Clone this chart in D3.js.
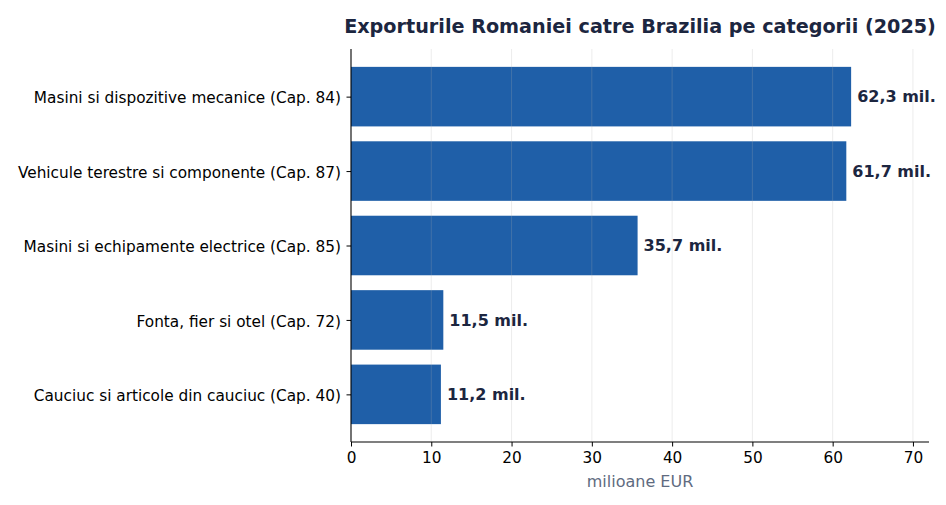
<!DOCTYPE html>
<html><head><meta charset="utf-8">
<script src="https://cdn.jsdelivr.net/npm/d3@7"></script>
<style>body{margin:0;background:#fff}svg{display:block}</style>
</head><body>
<script>
const categories = [
  "Masini si dispozitive mecanice (Cap. 84)",
  "Vehicule terestre si componente (Cap. 87)",
  "Masini si echipamente electrice (Cap. 85)",
  "Fonta, fier si otel (Cap. 72)",
  "Cauciuc si articole din cauciuc (Cap. 40)"
];
const values = [62.3, 61.7, 35.7, 11.5, 11.2];
const valueLabels = ["62,3 mil.", "61,7 mil.", "35,7 mil.", "11,5 mil.", "11,2 mil."];
const xTicks = [0, 10, 20, 30, 40, 50, 60, 70];
const title = "Exporturile Romaniei catre Brazilia pe categorii (2025)";
const xLabel = "milioane EUR";

const W = 946, H = 505;
const m = {left: 351, right: 929, top: 49, bottom: 442};
const font = "DejaVu Sans, sans-serif";

const svg = d3.select("body").append("svg").attr("width", W).attr("height", H);

const x = d3.scaleLinear().domain([0, 72]).range([m.left, m.right]);
const y = d3.scaleLinear().domain([-0.64, categories.length - 1 + 0.64]).range([m.top, m.bottom]);
const bh = y(0.4) - y(-0.4);

svg.append("g").selectAll("rect").data(values).join("rect")
  .attr("x", x(0)).attr("y", (d, i) => y(i) - bh / 2)
  .attr("width", d => x(d) - x(0)).attr("height", bh)
  .attr("fill", "#1f5fa8");

// grid
svg.append("g").selectAll("line").data(xTicks.slice(1)).join("line")
  .attr("x1", d => x(d)).attr("x2", d => x(d))
  .attr("y1", m.top).attr("y2", m.bottom)
  .attr("stroke", "#b0b0b0").attr("stroke-opacity", 0.3).attr("stroke-width", 0.8);

// value labels
svg.append("g").selectAll("text").data(values).join("text")
  .attr("x", d => x(d) + 6).attr("y", (d, i) => y(i))
  .attr("dy", "0.36em")
  .attr("font-family", font).attr("font-size", "16px").attr("font-weight", "bold")
  .attr("fill", "#1c2640")
  .text((d, i) => valueLabels[i]);

// x axis
const xAxis = svg.append("g").attr("transform", `translate(0,${m.bottom})`)
  .call(d3.axisBottom(x).tickValues(xTicks).tickSize(4.5).tickPadding(6).tickFormat(d3.format("d")));
xAxis.select(".domain").attr("stroke", "#000").attr("stroke-width", 1.1).attr("d", `M${m.left},0H${m.right}`);
xAxis.selectAll(".tick line").attr("stroke", "#000").attr("stroke-width", 1);
xAxis.selectAll("text").attr("font-family", font).attr("font-size", "15.3px").attr("fill", "#000");

// y axis
const yAxis = svg.append("g").attr("transform", `translate(${m.left},0)`)
  .call(d3.axisLeft(y).tickValues(d3.range(categories.length)).tickSize(4.5).tickPadding(5.5)
    .tickFormat(i => categories[i]));
yAxis.select(".domain").attr("stroke", "#000").attr("stroke-width", 1.1).attr("d", `M0,${m.top}V${m.bottom}`);
yAxis.selectAll(".tick line").attr("stroke", "#000").attr("stroke-width", 1);
yAxis.selectAll("text").attr("font-family", font).attr("font-size", "15.3px").attr("fill", "#000").attr("dy", "0.4em");

// title
svg.append("text").attr("x", (m.left + m.right) / 2).attr("y", 33)
  .attr("text-anchor", "middle").attr("font-family", font).attr("font-size", "19.2px")
  .attr("font-weight", "bold").attr("fill", "#1c2640").text(title);

// x label
svg.append("text").attr("x", (m.left + m.right) / 2).attr("y", 487)
  .attr("text-anchor", "middle").attr("font-family", font).attr("font-size", "16px")
  .attr("fill", "#5f6b80").text(xLabel);
</script>
</body></html>
